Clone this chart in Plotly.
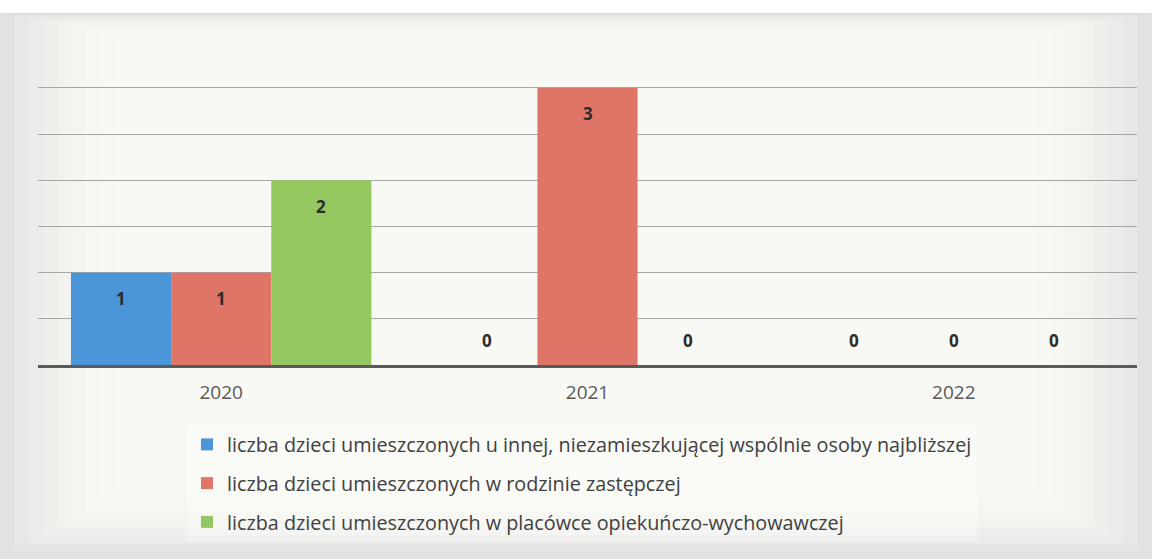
import plotly.graph_objects as go

years = ["2020", "2021", "2022"]
series_names = [
    "liczba dzieci umieszczonych u innej, niezamieszkującej wspólnie osoby najbliższej",
    "liczba dzieci umieszczonych w rodzinie zastępczej",
    "liczba dzieci umieszczonych w placówce opiekuńczo-wychowawczej",
]
blue_vals = [1, 0, 0]
red_vals = [1, 3, 0]
green_vals = [2, 0, 0]
colors = ["#4a96d9", "#df7567", "#96c862"]

W, H = 1152, 559
ML, MR, MT, MB = 38, 15, 14, 194
BARGAP = 0.18
plot_w = W - ML - MR
plot_h = H - MT - MB
bar_px = plot_w / len(years) * (1 - BARGAP) / 3

fig = go.Figure()
all_vals = [blue_vals, red_vals, green_vals]
for i, (name, vals, col) in enumerate(zip(series_names, all_vals, colors)):
    fig.add_trace(go.Bar(
        x=years, y=vals, name=name, marker_color=col, marker_line_width=0,
        legendgroup=str(i),
    ))
    for k, v in enumerate(vals):
        # category axis: annotation x is the category's serial index
        fig.add_annotation(
            x=k, y=v, xref="x", yref="y", text=str(v), showarrow=False,
            xshift=(i - 1) * bar_px, yshift=(-26 if v > 0 else 25),
            font=dict(family="Open Sans", size=17, color="#2b2b2b", weight="bold"),
        )

def px2x(px):
    return (px - ML) / plot_w

def py2y(py):
    return (H - MB - py) / plot_h

# white strip above the photographed chart
fig.add_shape(type="rect", xref="paper", yref="paper", layer="below",
              x0=px2x(0), x1=px2x(W), y0=py2y(13), y1=py2y(0),
              fillcolor="#ffffff", line=dict(width=0))
# soft photographed-paper vignette: nested translucent light rectangles
for n in range(1, 9):
    inset = n * 16
    fig.add_shape(
        type="rect", xref="paper", yref="paper", layer="below",
        x0=px2x(inset * 0.9), x1=px2x(W - inset * 0.9),
        y0=py2y(H - inset * 0.5), y1=py2y(13 + inset * 0.15),
        fillcolor="rgba(255,255,251,0.2)", line=dict(width=0),
    )

fig.update_layout(
    width=W, height=H,
    margin=dict(l=ML, r=MR, t=MT, b=MB, autoexpand=False),
    paper_bgcolor="#e2e2e0",
    plot_bgcolor="rgba(0,0,0,0)",
    barmode="group", bargap=BARGAP, bargroupgap=0,
    font=dict(family="Open Sans", color="#404040"),
    showlegend=True,
    legend=dict(
        x=(187 - ML) / plot_w, y=(365 - 425) / plot_h, xanchor="left", yanchor="top",
        orientation="v", traceorder="grouped", tracegroupgap=10,
        font=dict(family="Open Sans", size=19.8, color="#404040"),
        bgcolor="rgba(255,255,255,0.3)",
    ),
)
fig.update_xaxes(
    type="category", showgrid=False, zeroline=False,
    showline=True, linecolor="#5a5a5a", linewidth=3,
    ticks="outside", ticklen=8, tickcolor="rgba(0,0,0,0)",
    tickfont=dict(family="Open Sans", size=19, color="#595959"),
    range=[-0.5, len(years) - 0.5],
)
fig.update_yaxes(
    range=[0, 3.8], tickvals=[0.5, 1, 1.5, 2, 2.5, 3], showticklabels=False,
    showgrid=True, gridcolor="#a6a6a6", gridwidth=1, zeroline=False,
)
fig.add_shape(type="line", xref="paper", yref="paper", x0=px2x(8), x1=px2x(1148), y0=1, y1=1,
              line=dict(color="#d8d8d8", width=1))

fig.write_html("out.html", post_script="document.body.style.margin='0';",
               config={"displayModeBar": False})
